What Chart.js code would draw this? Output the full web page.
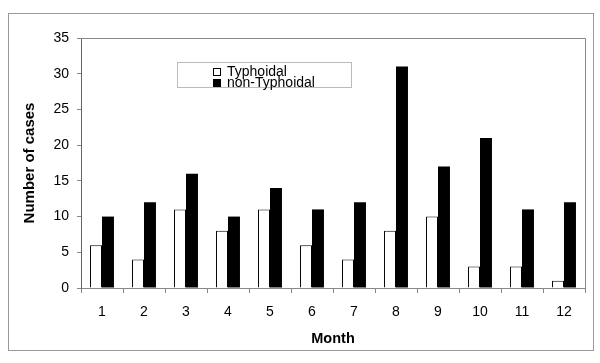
<!DOCTYPE html>
<html><head><meta charset="utf-8">
<script src="https://cdn.jsdelivr.net/npm/chart.js@4/dist/chart.umd.min.js"></script>
<style>html,body{margin:0;padding:0;background:#fff}#wrap{width:600px;height:363px}</style>
</head><body><div id="wrap"><canvas id="c" width="600" height="363"></canvas></div>
<script>
const months = ['1','2','3','4','5','6','7','8','9','10','11','12'];
const typhoidal = [6,4,11,8,11,6,4,8,10,3,3,1];
const nonTyphoidal = [10,12,16,10,14,11,12,31,17,21,11,12];
const yTitle = 'Number of cases';
const xTitle = 'Month';
const FONT = 'Liberation Sans, Arial, sans-serif';

const framePlugin = {
  id: 'frame',
  beforeDraw(chart) {
    const ctx = chart.ctx;
    ctx.save();
    ctx.fillStyle = '#fff';
    ctx.fillRect(0,0,chart.width,chart.height);
    ctx.strokeStyle = '#999';
    ctx.lineWidth = 1;
    ctx.strokeRect(8.5, 13.5, 585, 337);
    ctx.restore();
  },
  afterDraw(chart) {
    const ctx = chart.ctx, a = chart.chartArea;
    ctx.save();
    ctx.strokeStyle = '#888';
    ctx.lineWidth = 1;
    ctx.beginPath();
    ctx.moveTo(a.left, a.top + 0.5); ctx.lineTo(a.right + 0.5, a.top + 0.5);
    ctx.lineTo(a.right + 0.5, a.bottom);
    ctx.stroke();
    // legend
    const bx = 177.5, by = 62.5, bw = 174, bh = 25;
    ctx.strokeStyle = '#bbb';
    ctx.fillStyle = '#fff';
    ctx.fillRect(bx, by, bw, bh);
    ctx.strokeRect(bx, by, bw, bh);
    ctx.font = '14px ' + FONT;
    ctx.textBaseline = 'middle';
    chart.data.datasets.forEach((ds, i) => {
      const y = 72 + i * 11;
      ctx.fillStyle = ds.backgroundColor;
      ctx.fillRect(213, y - 4, 8, 8);
      ctx.strokeStyle = '#000';
      ctx.strokeRect(213.5, y - 3.5, 7, 7);
      ctx.fillStyle = '#000';
      ctx.fillText(ds.label, 227, y + 0.5);
    });
    ctx.restore();
  }
};

new Chart(document.getElementById('c'), {
  type: 'bar',
  data: {
    labels: months,
    datasets: [
      { label: 'Typhoidal', data: typhoidal, backgroundColor: '#ffffff', borderColor: '#000', borderWidth: 1, borderSkipped: 'bottom' },
      { label: 'non-Typhoidal', data: nonTyphoidal, backgroundColor: '#000000', borderColor: '#000', borderWidth: 0 }
    ]
  },
  options: {
    responsive: false,
    animation: false,
    events: [],
    layout: { padding: { left: 0, top: 38, right: 15, bottom: 0 } },
    datasets: { bar: { barPercentage: 1, categoryPercentage: 0.57 } },
    plugins: { legend: { display: false }, tooltip: { enabled: false } },
    scales: {
      x: {
        offset: true,
        grid: { display: true, offset: true, drawOnChartArea: false, tickLength: 5, color: '#888' },
        border: { display: true, color: '#888' },
        ticks: { color: '#000', font: { family: FONT, size: 14 }, padding: 11, maxRotation: 0 },
        title: { display: true, text: xTitle, color: '#000', font: { family: FONT, size: 14.5, weight: 'bold' }, padding: { top: 0, bottom: 15 } },
        afterFit(s) { s.height = 75; }
      },
      y: {
        min: 0, max: 35,
        ticks: { stepSize: 5, color: '#000', font: { family: FONT, size: 14 }, padding: 8 },
        grid: { display: true, drawOnChartArea: false, tickLength: 4, color: '#888' },
        border: { display: true, color: '#666' },
        title: { display: true, text: yTitle, color: '#000', font: { family: FONT, size: 15, weight: 'bold' }, padding: { top: 21, bottom: 0 } },
        afterFit(s) { s.width = 81; }
      }
    }
  },
  plugins: [framePlugin]
});
</script>
</body></html>
